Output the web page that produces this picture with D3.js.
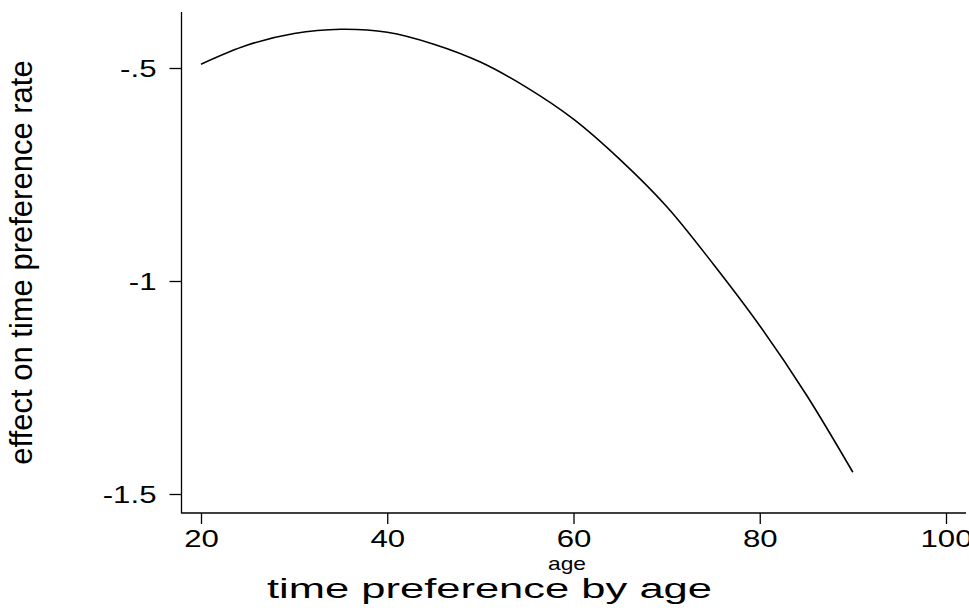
<!DOCTYPE html>
<html>
<head>
<meta charset="utf-8">
<script src="https://cdn.jsdelivr.net/npm/d3@7/dist/d3.min.js"></script>
<style>
  html, body { margin: 0; padding: 0; background: #fff; }
  text { font-family: "Liberation Sans", Arial, sans-serif; fill: #000; }
</style>
</head>
<body>
<div id="chart"></div>
<script>
// values
const ages = [20, 25, 30, 35, 40, 45, 50, 55, 60, 65, 70, 75, 80, 85, 90];
const effect = [-0.491, -0.446, -0.419, -0.409, -0.416, -0.444, -0.486, -0.546,
                -0.620, -0.715, -0.825, -0.960, -1.105, -1.267, -1.449];
const xTicks = [20, 40, 60, 80, 100];
const yTicks = [-0.5, -1, -1.5];
const yTickLabels = ["-.5", "-1", "-1.5"];

const W = 969, H = 611;
const svg = d3.select("#chart").append("svg")
    .attr("width", W).attr("height", H);

// scales
const x = d3.scaleLinear().domain([20, 100]).range([201, 946]);
const y = d3.scaleLinear().domain([-0.5, -1.5]).range([68, 494]);
const plotL = 181.5, plotB = 513, plotT = 12, plotR = 966;

// axis lines
svg.append("line").attr("x1", plotL).attr("x2", plotL).attr("y1", plotT).attr("y2", plotB + 0.5)
    .attr("stroke", "#000").attr("stroke-width", 1.3);
svg.append("line").attr("x1", plotL).attr("x2", plotR).attr("y1", plotB).attr("y2", plotB)
    .attr("stroke", "#000").attr("stroke-width", 1.3);

// x axis
const gx = svg.append("g").attr("transform", `translate(0,${plotB})`)
    .call(d3.axisBottom(x).tickValues(xTicks).tickSize(11).tickPadding(0).tickFormat(d3.format("d")));
gx.select(".domain").remove();
gx.selectAll(".tick line").attr("stroke", "#000").attr("stroke-width", 1.3);
gx.selectAll(".tick text").attr("font-size", 24).attr("dy", 0).attr("y", 34)
    .each(function() { this.setAttribute("textLength", this.getComputedTextLength() * 1.3); })
    .attr("lengthAdjust", "spacingAndGlyphs");

// y axis
const gy = svg.append("g").attr("transform", `translate(${plotL},0)`)
    .call(d3.axisLeft(y).tickValues(yTicks).tickSize(12).tickPadding(0)
        .tickFormat((d, i) => yTickLabels[i]));
gy.select(".domain").remove();
gy.selectAll(".tick line").attr("stroke", "#000").attr("stroke-width", 1.3);
gy.selectAll(".tick text").attr("font-size", 24).attr("x", -25).attr("dy", "0.35em")
    .each(function() { this.setAttribute("textLength", this.getComputedTextLength() * 1.3); })
    .attr("lengthAdjust", "spacingAndGlyphs");

// curve
const line = d3.line()
    .x((d, i) => x(ages[i]))
    .y(d => y(d))
    .curve(d3.curveCatmullRom);
svg.append("path").datum(effect)
    .attr("d", line)
    .attr("fill", "none")
    .attr("stroke", "#000")
    .attr("stroke-width", 1.6);

// axis titles
svg.append("text")
    .attr("transform", `translate(32,${(plotT + plotB) / 2}) rotate(-90)`)
    .attr("text-anchor", "middle")
    .attr("font-size", 31)
    .text("effect on time preference rate");

svg.append("text")
    .attr("x", 567).attr("y", 569.5)
    .attr("text-anchor", "middle")
    .attr("font-size", 19)
    .attr("textLength", 38).attr("lengthAdjust", "spacingAndGlyphs")
    .text("age");

svg.append("text")
    .attr("x", 267).attr("y", 598)
    .attr("font-size", 27)
    .attr("textLength", 445).attr("lengthAdjust", "spacingAndGlyphs")
    .text("time preference by age");
</script>
</body>
</html>
